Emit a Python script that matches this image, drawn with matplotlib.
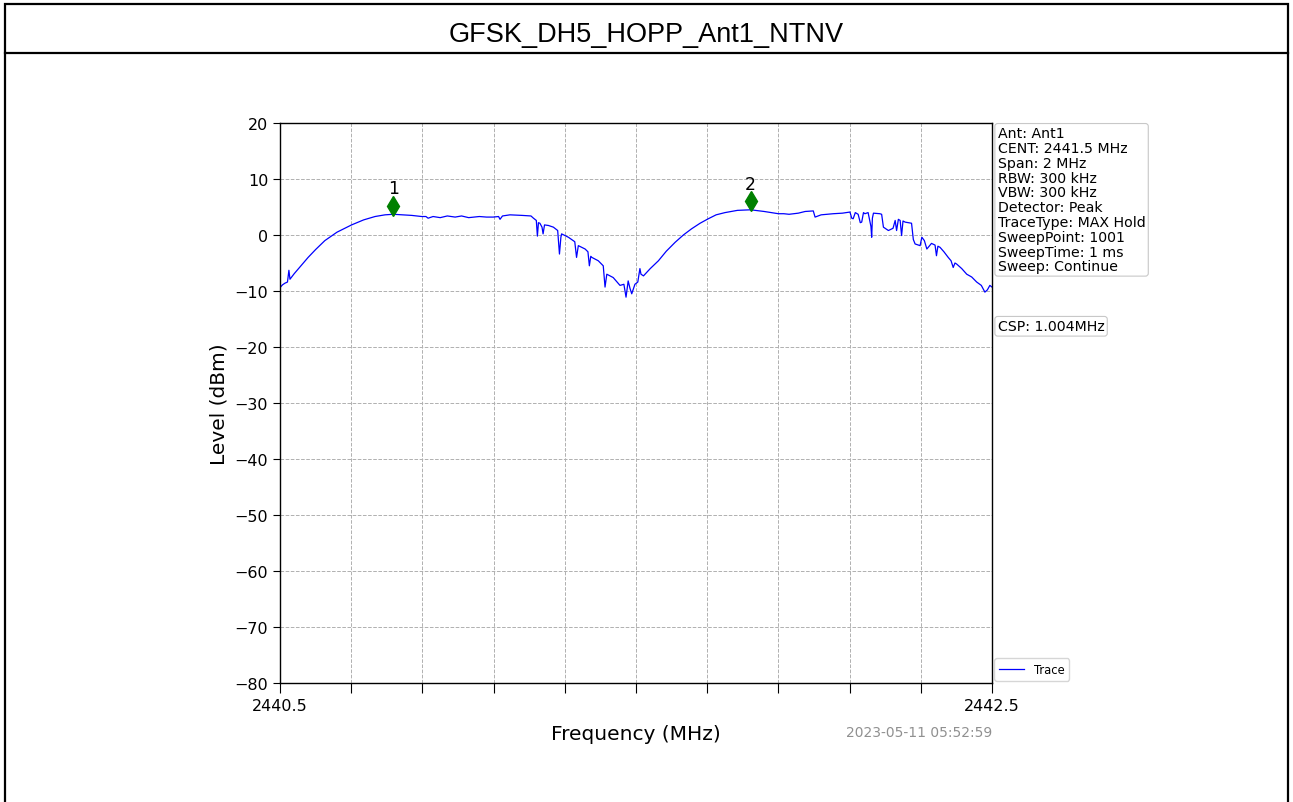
import matplotlib
matplotlib.use("Agg")
import matplotlib.pyplot as plt
from matplotlib.patches import Rectangle
from matplotlib.lines import Line2D

# Trace (MHz, dBm)
freq_mhz = [
    2440.500, 2440.507, 2440.514, 2440.521, 2440.525, 2440.528, 2440.540, 2440.560,
    2440.579, 2440.600, 2440.626, 2440.660, 2440.701, 2440.735, 2440.767, 2440.795,
    2440.818, 2440.845, 2440.870, 2440.898, 2440.910, 2440.916, 2440.930, 2440.950,
    2440.970, 2440.992, 2441.010, 2441.030, 2441.060, 2441.080, 2441.099, 2441.114,
    2441.118, 2441.125, 2441.146, 2441.180, 2441.205, 2441.212, 2441.220, 2441.223,
    2441.226, 2441.230, 2441.236, 2441.239, 2441.243, 2441.254, 2441.264, 2441.268,
    2441.280, 2441.285, 2441.289, 2441.291, 2441.310, 2441.328, 2441.333, 2441.338,
    2441.357, 2441.365, 2441.369, 2441.373, 2441.376, 2441.394, 2441.408, 2441.413,
    2441.418, 2441.436, 2441.455, 2441.466, 2441.472, 2441.478, 2441.483, 2441.488,
    2441.497, 2441.505, 2441.511, 2441.514, 2441.521, 2441.540, 2441.563, 2441.585,
    2441.610, 2441.633, 2441.656, 2441.680, 2441.703, 2441.725, 2441.750, 2441.785,
    2441.822, 2441.860, 2441.900, 2441.915, 2441.930, 2441.956, 2441.975, 2441.998,
    2442.003, 2442.020, 2442.054, 2442.080, 2442.101, 2442.106, 2442.110, 2442.116,
    2442.124, 2442.130, 2442.134, 2442.139, 2442.143, 2442.152, 2442.160, 2442.162,
    2442.164, 2442.167, 2442.185, 2442.190, 2442.195, 2442.209, 2442.222, 2442.228,
    2442.232, 2442.237, 2442.242, 2442.246, 2442.250, 2442.256, 2442.274, 2442.279,
    2442.284, 2442.298, 2442.303, 2442.310, 2442.317, 2442.330, 2442.340, 2442.344,
    2442.348, 2442.354, 2442.365, 2442.377, 2442.385, 2442.391, 2442.396, 2442.401,
    2442.415, 2442.429, 2442.443, 2442.457, 2442.470, 2442.480, 2442.487, 2442.494,
    2442.500,
]
level_dbm = [
    -9.4, -8.9, -8.6, -8.4, -6.3, -7.9, -6.9, -5.4,
    -4.0, -2.6, -1.0, 0.5, 1.8, 2.7, 3.3, 3.6,
    3.7, 3.6, 3.5, 3.3, 3.3, 3.0, 3.3, 3.1,
    3.4, 3.2, 3.4, 3.1, 3.3, 3.2, 3.2, 3.3,
    2.8, 3.4, 3.6, 3.5, 3.4, 3.0, 2.6, -0.2,
    2.2, 2.1, 1.4, 0.2, 1.8, 1.7, 1.5, 1.4,
    0.8, -3.4, -0.4, 0.2, -0.4, -1.2, -4.0, -1.9,
    -2.5, -3.0, -5.5, -3.8, -4.0, -4.6, -5.5, -9.3,
    -7.0, -7.6, -9.0, -8.8, -11.1, -8.2, -9.5, -10.5,
    -8.8, -8.4, -6.0, -7.0, -7.3, -6.0, -4.6, -2.9,
    -1.3, 0.0, 1.1, 2.1, 2.9, 3.6, 4.0, 4.4,
    4.5, 4.2, 3.8, 3.8, 3.7, 3.9, 4.2, 4.3,
    3.2, 3.6, 3.8, 3.9, 4.1, 3.0, 2.9, 4.0,
    3.7, 2.2, 2.3, 4.0, 3.8, 4.0, 1.5, -0.4,
    3.0, 3.9, 3.8, 3.7, 1.4, 0.8, 1.2, 2.6,
    0.8, 2.8, 2.6, -0.1, 2.5, 2.3, 2.1, -0.8,
    -1.6, -1.9, -0.4, -1.0, -2.5, -1.5, -1.8, -3.7,
    -2.0, -2.2, -3.0, -4.0, -4.6, -5.8, -5.0, -5.2,
    -6.0, -7.0, -7.5, -8.4, -9.0, -10.2, -9.8, -9.0,
    -9.3,
]

marker_freq = [2440.818, 2441.822]
marker_level = [3.7, 4.5]
marker_names = ["1", "2"]

info_lines = [
    "Ant: Ant1",
    "CENT: 2441.5 MHz",
    "Span: 2 MHz",
    "RBW: 300 kHz",
    "VBW: 300 kHz",
    "Detector: Peak",
    "TraceType: MAX Hold",
    "SweepPoint: 1001",
    "SweepTime: 1 ms",
    "Sweep: Continue",
]
csp_text = "CSP: 1.004MHz"
timestamp = "2023-05-11 05:52:59"
title = "GFSK_DH5_HOPP_Ant1_NTNV"

W, H = 1293, 803
fig = plt.figure(figsize=(W / 100, H / 100), dpi=100)
fig.patch.set_facecolor("white")

# report frame: outer box + title row
fig.add_artist(Rectangle((5 / W, -0.01), 1283 / W, 1.01 - 5 / H, transform=fig.transFigure,
                         fill=False, edgecolor="black", lw=1.6))
fig.add_artist(Line2D([5 / W, 1288 / W], [1 - 54 / H, 1 - 54 / H], transform=fig.transFigure,
                      color="black", lw=1.6))
fig.text(0.5, 1 - 35 / H, title, ha="center", va="center", fontsize=19.5,
         family="Liberation Sans")

ax = fig.add_axes([280 / W, 1 - 684 / H, 712 / W, 560 / H])
ax.plot(freq_mhz, level_dbm, color="blue", lw=0.9, label="Trace")
for f, lv, nm in zip(marker_freq, marker_level, marker_names):
    ax.plot(f, lv + 1.5, marker="d", color="green", markersize=10, ls="none")
    ax.text(f, lv + 3.0, nm, ha="center", va="bottom", fontsize=12.5)

ax.set_xlim(2440.5, 2442.5)
ax.set_ylim(-80, 20)
xt = [2440.5 + 0.2 * i for i in range(11)]
ax.set_xticks(xt)
ax.set_xticklabels(["2440.5"] + [""] * 9 + ["2442.5"])
ax.set_yticks(range(-80, 21, 10))
ax.tick_params(axis="x", length=7, labelsize=11.5)
ax.tick_params(axis="y", length=5, labelsize=11.5)
ax.grid(True, ls="--", color="#b0b0b0", lw=0.7)
ax.set_xlabel("Frequency (MHz)", fontsize=14.5, labelpad=8)
ax.set_ylabel("Level (dBm)", fontsize=14.5)
for s in ax.spines.values():
    s.set_linewidth(1.0)

box = dict(boxstyle="round,pad=0.2", facecolor="white", edgecolor="#c8c8c8", lw=0.8)
ax.text(1.008, 0.994, "\n".join(info_lines), transform=ax.transAxes, ha="left", va="top",
        fontsize=10.2, linespacing=1.07, bbox=box)
ax.text(1.008, 0.637, csp_text, transform=ax.transAxes, ha="left", va="center",
        fontsize=10.2, bbox=box)
ax.text(1.0, -0.087, timestamp, transform=ax.transAxes, ha="right", va="center",
        fontsize=10, color="#909090")
ax.legend(loc="lower left", bbox_to_anchor=(1.0, 0.0), fontsize=8.3, frameon=True,
          handlelength=2.2, borderaxespad=0.2)

fig.savefig("out.png", dpi=100)
